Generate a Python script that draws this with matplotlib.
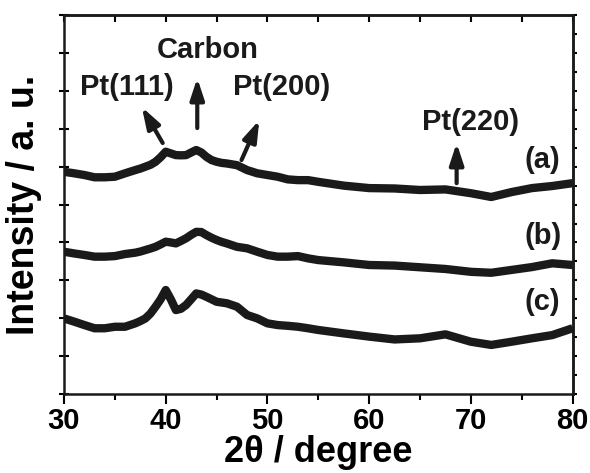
import matplotlib
matplotlib.use("Agg")
import matplotlib.pyplot as plt
from matplotlib.ticker import MultipleLocator, NullFormatter

plt.rcParams['font.family'] = ['Liberation Sans', 'DejaVu Sans']
plt.rcParams['font.weight'] = 'bold'

# 2-theta grid (degrees)
two_theta = [30, 31, 32, 33, 34, 35, 36,
             37, 37.5, 38, 38.5, 39, 39.5, 40, 40.5, 41, 41.5, 42, 42.5, 43, 43.5, 44, 44.5, 45, 45.5, 46,
             47, 48, 49, 50, 51, 52, 53, 54, 55,
             57.5, 60, 62.5, 65, 67.5, 70, 72, 74, 76, 78, 80]

# offset intensities (a.u.)
curve_a = [11.73, 11.65, 11.56, 11.44, 11.44, 11.47, 11.65,
           11.82, 11.90, 12.00, 12.10, 12.26, 12.50, 12.79, 12.70, 12.61, 12.60, 12.61, 12.75, 12.88, 12.75, 12.52, 12.35, 12.26, 12.20, 12.17,
           12.08, 11.82, 11.65, 11.56, 11.47, 11.33, 11.29, 11.29, 11.20,
           11.00, 10.87, 10.85, 10.77, 10.80, 10.60, 10.40, 10.66, 10.87, 10.98, 11.13]

curve_b = [7.51, 7.42, 7.34, 7.25, 7.25, 7.28, 7.39,
           7.46, 7.52, 7.60, 7.68, 7.77, 7.90, 8.04, 8.00, 7.95, 8.08, 8.22, 8.40, 8.56, 8.55, 8.39, 8.25, 8.13, 8.03, 7.95,
           7.77, 7.69, 7.51, 7.34, 7.25, 7.25, 7.28, 7.16, 7.07,
           6.95, 6.81, 6.78, 6.69, 6.60, 6.45, 6.40, 6.55, 6.70, 6.90, 6.81]

curve_c = [3.99, 3.82, 3.64, 3.47, 3.47, 3.55, 3.55,
           3.73, 3.85, 3.99, 4.25, 4.61, 5.00, 5.49, 5.00, 4.43, 4.50, 4.70, 5.00, 5.31, 5.25, 5.13, 5.00, 4.87, 4.83, 4.79,
           4.61, 4.17, 3.99, 3.73, 3.64, 3.60, 3.55, 3.47, 3.38,
           3.20, 3.03, 2.88, 2.94, 3.15, 2.76, 2.59, 2.76, 2.94, 3.11, 3.47]

curve_labels = ['(a)', '(b)', '(c)']
peak_labels = ['Pt(111)', 'Carbon', 'Pt(200)', 'Pt(220)']

fig = plt.figure(figsize=(5.9, 4.73), dpi=100)
ax = fig.add_axes([0.1085, 0.167, 0.862, 0.801])

for ys in (curve_a, curve_b, curve_c):
    ax.plot(two_theta, ys, color='#1a1a1a', lw=6.0, solid_joinstyle='round',
            solid_capstyle='butt')

ax.set_xlim(30, 80)
ax.set_ylim(0, 20)

ax.xaxis.set_major_locator(MultipleLocator(10))
ax.xaxis.set_minor_locator(MultipleLocator(5))
ax.yaxis.set_major_locator(MultipleLocator(2))
ax.yaxis.set_minor_locator(MultipleLocator(1))
ax.yaxis.set_major_formatter(NullFormatter())
ax.tick_params(axis='x', which='major', direction='out', length=7, width=1.5,
               labelsize=21, pad=2)
ax.tick_params(axis='x', which='minor', direction='out', length=4, width=1.5)
ax.tick_params(axis='y', which='major', direction='inout', length=7, width=1.5)
ax.tick_params(axis='y', which='minor', left=False)
for lbl in ax.get_xticklabels():
    lbl.set_fontweight('bold')

secx = ax.secondary_xaxis('top')
secx.xaxis.set_major_locator(MultipleLocator(5))
secx.tick_params(direction='in', length=5, width=1.5, labeltop=False)
secy = ax.secondary_yaxis('right')
secy.yaxis.set_major_locator(MultipleLocator(1))
secy.tick_params(direction='out', length=3, width=1.5, labelright=False)
for s in list(ax.spines.values()) + [secx.spines['top'], secy.spines['right']]:
    s.set_linewidth(1.8)
    s.set_color('#1a1a1a')

ax.set_xlabel('2θ / degree', fontsize=26, fontweight='bold', labelpad=0)
ax.set_ylabel('Intensity / a. u.', fontsize=27, fontweight='bold', labelpad=9)

# peak annotations
peak_text_pos = [(36.2, 16.2), (44.1, 18.15), (51.4, 16.2), (70.0, 14.35)]
peak_arrow_tail = [(39.7, 13.25), (43.1, 14.04), (47.45, 12.35), (68.6, 11.13)]
peak_arrow_head = [(37.65, 15.15), (43.1, 16.68), (49.2, 14.46), (68.6, 13.25)]
for lab, tp, tail, head in zip(peak_labels, peak_text_pos, peak_arrow_tail, peak_arrow_head):
    ax.text(tp[0], tp[1], lab, fontsize=21, fontweight='bold', ha='center', va='center',
            color='#1a1a1a')
    ax.annotate('', xy=head, xytext=tail,
                arrowprops=dict(arrowstyle='-|>,head_length=0.85,head_width=0.28',
                                lw=3.0, color='#1a1a1a', mutation_scale=15,
                                shrinkA=0, shrinkB=0))

curve_label_pos = [(77.06, 12.35), (77.06, 8.34), (77.06, 4.85)]
for lab, p in zip(curve_labels, curve_label_pos):
    ax.text(p[0], p[1], lab, fontsize=21, fontweight='bold', ha='center', va='center',
            color='#1a1a1a')

fig.savefig('out.png', dpi=100)
